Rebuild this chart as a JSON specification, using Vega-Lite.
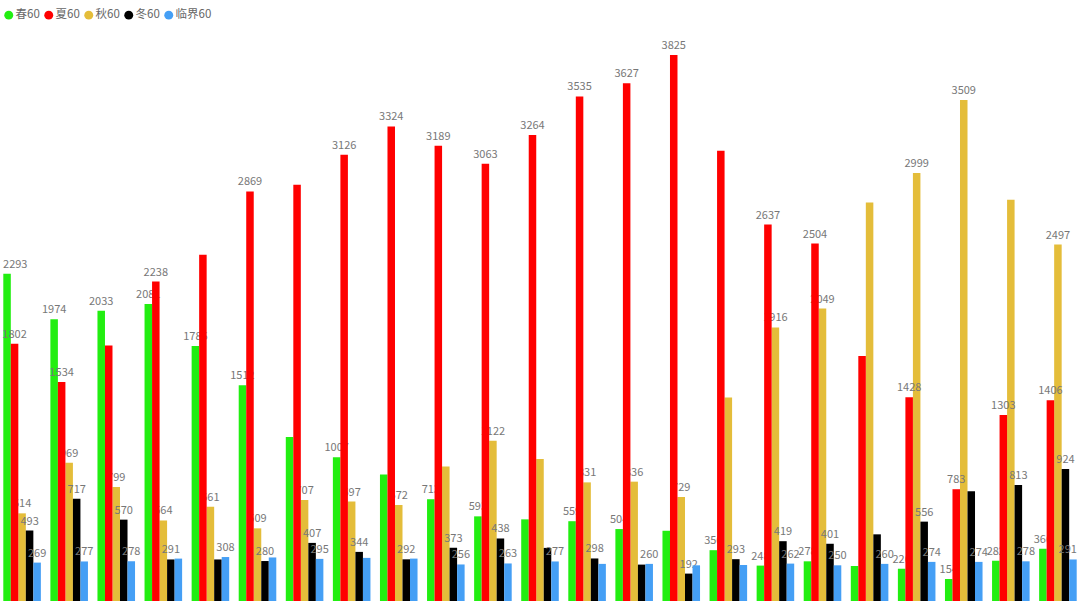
{
  "$schema": "https://vega.github.io/schema/vega-lite/v6.json",
  "width": 1080,
  "height": 571,
  "autosize": {"type": "none"},
  "padding": {"left": 0, "top": 30, "right": 0, "bottom": 5},
  "background": "#ffffff",
  "config": {"view": {"stroke": null}, "font": "Noto Sans CJK SC"},
  "data": {"values": [
    {"g":1,"s":"春60","v":2293,"show":1},{"g":1,"s":"夏60","v":1802,"show":1},{"g":1,"s":"秋60","v":614,"show":1},{"g":1,"s":"冬60","v":493,"show":1},{"g":1,"s":"临界60","v":269,"show":1},
    {"g":2,"s":"春60","v":1974,"show":1},{"g":2,"s":"夏60","v":1534,"show":1},{"g":2,"s":"秋60","v":969,"show":1},{"g":2,"s":"冬60","v":717,"show":1},{"g":2,"s":"临界60","v":277,"show":1},
    {"g":3,"s":"春60","v":2033,"show":1},{"g":3,"s":"夏60","v":1790,"show":0},{"g":3,"s":"秋60","v":799,"show":1},{"g":3,"s":"冬60","v":570,"show":1},{"g":3,"s":"临界60","v":278,"show":1},
    {"g":4,"s":"春60","v":2081,"show":1},{"g":4,"s":"夏60","v":2238,"show":1},{"g":4,"s":"秋60","v":564,"show":1},{"g":4,"s":"冬60","v":291,"show":1},{"g":4,"s":"临界60","v":297,"show":0},
    {"g":5,"s":"春60","v":1786,"show":1},{"g":5,"s":"夏60","v":2425,"show":0},{"g":5,"s":"秋60","v":661,"show":1},{"g":5,"s":"冬60","v":291,"show":0},{"g":5,"s":"临界60","v":308,"show":1},
    {"g":6,"s":"春60","v":1512,"show":1},{"g":6,"s":"夏60","v":2869,"show":1},{"g":6,"s":"秋60","v":509,"show":1},{"g":6,"s":"冬60","v":280,"show":1},{"g":6,"s":"临界60","v":305,"show":0},
    {"g":7,"s":"春60","v":1148,"show":0},{"g":7,"s":"夏60","v":2916,"show":0},{"g":7,"s":"秋60","v":707,"show":1},{"g":7,"s":"冬60","v":407,"show":1},{"g":7,"s":"临界60","v":295,"show":1},
    {"g":8,"s":"春60","v":1007,"show":1},{"g":8,"s":"夏60","v":3126,"show":1},{"g":8,"s":"秋60","v":697,"show":1},{"g":8,"s":"冬60","v":344,"show":1},{"g":8,"s":"临界60","v":302,"show":0},
    {"g":9,"s":"春60","v":887,"show":0},{"g":9,"s":"夏60","v":3324,"show":1},{"g":9,"s":"秋60","v":672,"show":1},{"g":9,"s":"冬60","v":292,"show":1},{"g":9,"s":"临界60","v":297,"show":0},
    {"g":10,"s":"春60","v":713,"show":1},{"g":10,"s":"夏60","v":3189,"show":1},{"g":10,"s":"秋60","v":943,"show":0},{"g":10,"s":"冬60","v":373,"show":1},{"g":10,"s":"临界60","v":256,"show":1},
    {"g":11,"s":"春60","v":593,"show":1},{"g":11,"s":"夏60","v":3063,"show":1},{"g":11,"s":"秋60","v":1122,"show":1},{"g":11,"s":"冬60","v":438,"show":1},{"g":11,"s":"临界60","v":263,"show":1},
    {"g":12,"s":"春60","v":572,"show":0},{"g":12,"s":"夏60","v":3264,"show":1},{"g":12,"s":"秋60","v":994,"show":0},{"g":12,"s":"冬60","v":372,"show":0},{"g":12,"s":"临界60","v":277,"show":1},
    {"g":13,"s":"春60","v":559,"show":1},{"g":13,"s":"夏60","v":3535,"show":1},{"g":13,"s":"秋60","v":831,"show":1},{"g":13,"s":"冬60","v":298,"show":1},{"g":13,"s":"临界60","v":260,"show":0},
    {"g":14,"s":"春60","v":504,"show":1},{"g":14,"s":"夏60","v":3627,"show":1},{"g":14,"s":"秋60","v":836,"show":1},{"g":14,"s":"冬60","v":255,"show":0},{"g":14,"s":"临界60","v":260,"show":1},
    {"g":15,"s":"春60","v":492,"show":0},{"g":15,"s":"夏60","v":3825,"show":1},{"g":15,"s":"秋60","v":729,"show":1},{"g":15,"s":"冬60","v":192,"show":1},{"g":15,"s":"临界60","v":250,"show":0},
    {"g":16,"s":"春60","v":356,"show":1},{"g":16,"s":"夏60","v":3154,"show":0},{"g":16,"s":"秋60","v":1426,"show":0},{"g":16,"s":"冬60","v":293,"show":1},{"g":16,"s":"临界60","v":252,"show":0},
    {"g":17,"s":"春60","v":248,"show":1},{"g":17,"s":"夏60","v":2637,"show":1},{"g":17,"s":"秋60","v":1916,"show":1},{"g":17,"s":"冬60","v":419,"show":1},{"g":17,"s":"临界60","v":262,"show":1},
    {"g":18,"s":"春60","v":278,"show":1},{"g":18,"s":"夏60","v":2504,"show":1},{"g":18,"s":"秋60","v":2049,"show":1},{"g":18,"s":"冬60","v":401,"show":1},{"g":18,"s":"临界60","v":250,"show":1},
    {"g":19,"s":"春60","v":245,"show":0},{"g":19,"s":"夏60","v":1716,"show":0},{"g":19,"s":"秋60","v":2792,"show":0},{"g":19,"s":"冬60","v":467,"show":0},{"g":19,"s":"临界60","v":260,"show":1},
    {"g":20,"s":"春60","v":226,"show":1},{"g":20,"s":"夏60","v":1428,"show":1},{"g":20,"s":"秋60","v":2999,"show":1},{"g":20,"s":"冬60","v":556,"show":1},{"g":20,"s":"临界60","v":274,"show":1},
    {"g":21,"s":"春60","v":154,"show":1},{"g":21,"s":"夏60","v":783,"show":1},{"g":21,"s":"秋60","v":3509,"show":1},{"g":21,"s":"冬60","v":768,"show":0},{"g":21,"s":"临界60","v":274,"show":1},
    {"g":22,"s":"春60","v":282,"show":1},{"g":22,"s":"夏60","v":1303,"show":1},{"g":22,"s":"秋60","v":2811,"show":0},{"g":22,"s":"冬60","v":813,"show":1},{"g":22,"s":"临界60","v":278,"show":1},
    {"g":23,"s":"春60","v":366,"show":1},{"g":23,"s":"夏60","v":1406,"show":1},{"g":23,"s":"秋60","v":2497,"show":1},{"g":23,"s":"冬60","v":924,"show":1},{"g":23,"s":"临界60","v":291,"show":1}
  ]},
  "encoding": {
    "x": {"field": "g", "type": "ordinal", "axis": null, "scale": {"paddingInner": 0.202, "paddingOuter": 0.07}},
    "xOffset": {"field": "s", "type": "nominal", "scale": {"domain": ["春60","夏60","秋60","冬60","临界60"], "paddingInner": 0, "paddingOuter": 0}},
    "y": {"field": "v", "type": "quantitative", "axis": null, "scale": {"domain": [0, 4000], "nice": false}}
  },
  "layer": [
    {"transform": [{"filter": "datum.s === '春60'"}], "mark": {"type": "bar"},
     "encoding": {"color": {"field": "s", "type": "nominal",
       "scale": {"domain": ["春60","夏60","秋60","冬60","临界60"], "range": ["#22ee11","#ff0000","#e4bd3a","#000000","#459ff5"]},
       "legend": {"orient": "none", "legendX": 3, "legendY": -21, "direction": "horizontal", "title": null, "symbolType": "circle", "symbolSize": 80, "symbolStrokeWidth": 0, "labelFontSize": 11.5, "labelColor": "#666666", "labelFont": "Noto Sans CJK SC", "columnPadding": 3, "symbolOffset": 0, "labelOffset": 1}}}},
    {"transform": [{"filter": "datum.s === '春60' && datum.show === 1 && datum.g !== 1"}], "mark": {"type": "text", "baseline": "bottom", "dy": -4, "fontSize": 11, "fill": "#777777"}, "encoding": {"text": {"field": "v", "type": "quantitative"}}},
    {"transform": [{"filter": "datum.s === '春60' && datum.show === 1 && datum.g === 1"}], "mark": {"type": "text", "baseline": "bottom", "align": "left", "dx": -4, "dy": -4, "fontSize": 11, "fill": "#777777"}, "encoding": {"text": {"field": "v", "type": "quantitative"}}},
    {"transform": [{"filter": "datum.s === '秋60'"}], "mark": {"type": "bar"}, "encoding": {"color": {"field": "s", "type": "nominal"}}},
    {"transform": [{"filter": "datum.s === '秋60' && datum.show === 1"}], "mark": {"type": "text", "baseline": "bottom", "dy": -4, "fontSize": 11, "fill": "#777777"}, "encoding": {"text": {"field": "v", "type": "quantitative"}}},
    {"transform": [{"filter": "datum.s === '夏60'"}], "mark": {"type": "bar"}, "encoding": {"color": {"field": "s", "type": "nominal"}}},
    {"transform": [{"filter": "datum.s === '夏60' && datum.show === 1"}], "mark": {"type": "text", "baseline": "bottom", "dy": -4, "fontSize": 11, "fill": "#777777"}, "encoding": {"text": {"field": "v", "type": "quantitative"}}},
    {"transform": [{"filter": "datum.s === '冬60'"}], "mark": {"type": "bar"}, "encoding": {"color": {"field": "s", "type": "nominal"}}},
    {"transform": [{"filter": "datum.s === '冬60' && datum.show === 1"}], "mark": {"type": "text", "baseline": "bottom", "dy": -4, "fontSize": 11, "fill": "#777777"}, "encoding": {"text": {"field": "v", "type": "quantitative"}}},
    {"transform": [{"filter": "datum.s === '临界60'"}], "mark": {"type": "bar"}, "encoding": {"color": {"field": "s", "type": "nominal"}}},
    {"transform": [{"filter": "datum.s === '临界60' && datum.show === 1 && datum.g !== 23"}], "mark": {"type": "text", "baseline": "bottom", "dy": -4, "fontSize": 11, "fill": "#777777"}, "encoding": {"text": {"field": "v", "type": "quantitative"}}},
    {"transform": [{"filter": "datum.s === '临界60' && datum.show === 1 && datum.g === 23"}], "mark": {"type": "text", "baseline": "bottom", "align": "right", "dx": 4, "dy": -4, "fontSize": 11, "fill": "#777777"}, "encoding": {"text": {"field": "v", "type": "quantitative"}}}
  ]
}
